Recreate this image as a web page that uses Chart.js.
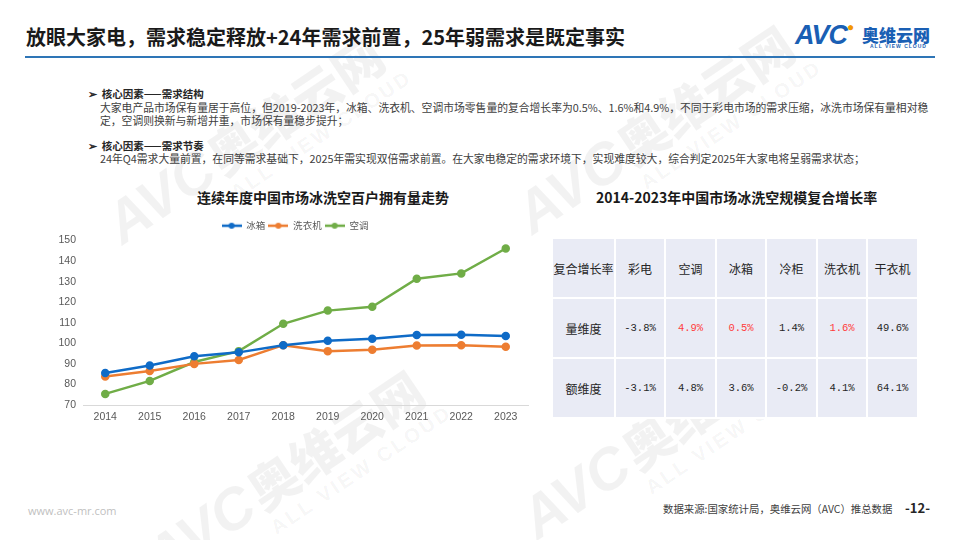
<!DOCTYPE html>
<html>
<head>
<meta charset="utf-8">
<script src="https://cdn.jsdelivr.net/npm/chart.js"></script>
<style>
  html, body { margin: 0; padding: 0; background: #fff; }
  body { width: 960px; height: 540px; position: relative; overflow: hidden;
         font-family: "Noto Sans CJK SC", "Noto Sans", sans-serif; color: #262626; }
  .abs { position: absolute; white-space: nowrap; }
  .wm { position: absolute; color: rgba(0,0,0,0.05); font-weight: 900; transform: rotate(-34deg);
        transform-origin: left top; white-space: nowrap; line-height: 1; }
  .wm .big { font-size: 58px; font-style: italic; font-family: "Liberation Sans", sans-serif; }
  .wm .cn { font-size: 50px; }
  .wm .en { display: block; font-size: 20px; letter-spacing: 3px; margin-left: 120px; font-family: "Liberation Sans", sans-serif; }
  #title { left: 26px; top: 22px; font-size: 20px; font-weight: 700; color: #1a1a1a; }
  #rule { left: 25px; top: 56px; width: 910px; height: 2px; background: #2e75b6; }
  .txt { font-size: 10.8px; color: #404040; }
  .head { font-size: 10.5px; font-weight: 700; color: #262626; }
  #chartTitle { left: 197px; top: 187px; font-size: 14px; font-weight: 700; color: #1a1a1a; }
  #tableTitle { left: 596px; top: 187px; font-size: 14px; font-weight: 700; color: #1a1a1a; }
  #wrap { position: absolute; left: 40px; top: 212px; width: 500px; height: 225px; }
  table { position: absolute; left: 551px; top: 237px; width: 368px; border-collapse: collapse; table-layout: fixed; }
  td { background: #e9ebf5; border: 2px solid #fff; height: 58px; text-align: center; padding: 0;
       font-size: 12px; color: #262626; }
  td.num { font-family: "Liberation Mono", "DejaVu Sans Mono", monospace; font-size: 10.5px; }
  td.red { color: #ff3b3b; }
</style>
</head>
<body>

<div class="wm" style="left:95px; top:205px;"><span class="big">AVC</span> <span class="cn">奥维云网</span><span class="en">ALL VIEW CLOUD</span></div>
<div class="wm" style="left:505px; top:195px;"><span class="big">AVC</span> <span class="cn">奥维云网</span><span class="en">ALL VIEW CLOUD</span></div>
<div class="wm" style="left:135px; top:540px;"><span class="big">AVC</span> <span class="cn">奥维云网</span><span class="en">ALL VIEW CLOUD</span></div>
<div class="wm" style="left:510px; top:500px;"><span class="big">AVC</span> <span class="cn">奥维云网</span><span class="en">ALL VIEW CLOUD</span></div>

<div id="title" class="abs">放眼大家电，需求稳定释放+24年需求前置，25年弱需求是既定事实</div>
<div id="rule" class="abs"></div>

<div class="abs" style="left:795px; top:20px; font-family:'Liberation Sans',sans-serif; font-weight:900; font-style:italic; font-size:27px; color:#1a5fb4; letter-spacing:-1px;">AVC<span style="color:#f39800; font-size:12px; vertical-align:top;">●</span></div>
<div class="abs" style="left:862px; top:22px; font-size:17px; font-weight:900; color:#1a5fb4;">奥维云网</div>
<div class="abs" style="left:870px; top:43px; font-size:5px; font-weight:700; color:#1a5fb4; letter-spacing:1px; font-family:'Liberation Sans',sans-serif;">ALL VIEW CLOUD</div>

<div class="abs head" style="left:88px; top:86px;">➢&nbsp;&nbsp;核心因素——需求结构</div>
<div class="abs txt" style="left:100px; top:99px;">大家电产品市场保有量居于高位，但2019-2023年，冰箱、洗衣机、空调市场零售量的复合增长率为0.5%、1.6%和4.9%，不同于彩电市场的需求压缩，冰洗市场保有量相对稳</div>
<div class="abs txt" style="left:100px; top:112px;">定，空调则换新与新增并重，市场保有量稳步提升；</div>
<div class="abs head" style="left:88px; top:138px;">➢&nbsp;&nbsp;核心因素——需求节奏</div>
<div class="abs txt" style="left:100px; top:150px;">24年Q4需求大量前置，在同等需求基础下，2025年需实现双倍需求前置。在大家电稳定的需求环境下，实现难度较大，综合判定2025年大家电将呈弱需求状态；</div>

<div id="chartTitle" class="abs">连续年度中国市场冰洗空百户拥有量走势</div>
<div id="wrap"><canvas id="c" width="500" height="225"></canvas></div>

<div id="tableTitle" class="abs">2014-2023年中国市场冰洗空规模复合增长率</div>
<table id="tbl"></table>

<div class="abs" style="left:28px; top:503px; font-size:11px; color:#bfbfbf; font-family:'Open Sans',sans-serif;">www.avc-mr.com</div>
<div class="abs" style="left:663px; top:501px; font-size:10.4px; color:#404040;">数据来源:国家统计局，奥维云网（AVC）推总数据</div>
<div class="abs" style="left:905px; top:498px; font-size:13px; font-weight:700; color:#262626;">-12-</div>

<script>
// line chart data (per 100 households)
const years = ['2014', '2015', '2016', '2017', '2018', '2019', '2020', '2021', '2022', '2023'];
const fridge = [85.6, 89.2, 93.7, 95.6, 99.1, 101.2, 102.2, 104.1, 104.2, 103.6];
const washer = [83.9, 86.5, 90.0, 91.9, 99.1, 96.2, 96.9, 98.9, 99.1, 98.3];
const aircon = [75.4, 81.7, 90.9, 96.2, 109.5, 115.9, 117.8, 131.4, 134.0, 146.1];
const seriesNames = ['冰箱', '洗衣机', '空调'];
const seriesColors = ['#0f6bc7', '#ed7d31', '#70ad47'];

// CAGR table
const tableHeader = '复合增长率';
const tableCols = ['彩电', '空调', '冰箱', '冷柜', '洗衣机', '干衣机'];
const rowNames = ['量维度', '额维度'];
const volumeCagr = ['-3.8%', '4.9%', '0.5%', '1.4%', '1.6%', '49.6%'];
const valueCagr = ['-3.1%', '4.8%', '3.6%', '-0.2%', '4.1%', '64.1%'];
const redCells = [1, 2, 4];

const colWidths = [61, 48, 49, 48, 49, 48, 49];

function buildTable() {
  const tbl = document.getElementById('tbl');
  const addRow = (first, cells, red) => {
    const tr = document.createElement('tr');
    const th = document.createElement('td');
    th.textContent = first;
    tr.appendChild(th);
    cells.forEach((v, i) => {
      const td = document.createElement('td');
      td.textContent = v;
      if (red !== null) td.className = 'num' + (red.includes(i) ? ' red' : '');
      tr.appendChild(td);
    });
    tbl.appendChild(tr);
  };
  addRow(tableHeader, tableCols, null);
  addRow(rowNames[0], volumeCagr, redCells);
  addRow(rowNames[1], valueCagr, []);
  const first = tbl.rows[0].cells;
  for (let i = 0; i < first.length; i++) first[i].style.width = colWidths[i] + 'px';
}
buildTable();

// little line + dot legend icons
function legendIcon(color) {
  const cv = document.createElement('canvas');
  cv.width = 20;
  cv.height = 8;
  const g = cv.getContext('2d');
  g.strokeStyle = color;
  g.lineWidth = 2.5;
  g.beginPath();
  g.moveTo(0, 4);
  g.lineTo(20, 4);
  g.stroke();
  g.fillStyle = color;
  g.beginPath();
  g.arc(10, 4, 3, 0, Math.PI * 2);
  g.fill();
  return cv;
}

// the slide's legend sits a bit right of the canvas centre
const legendNudge = {
  id: 'legendNudge',
  afterLayout(chart) {
    chart.legend.left += 11;
    chart.legend.right += 11;
  }
};

const allSeries = [fridge, washer, aircon];

new Chart(document.getElementById('c'), {
  type: 'line',
  data: {
    labels: years,
    datasets: allSeries.map((d, i) => ({
      label: seriesNames[i],
      data: d,
      borderColor: seriesColors[i],
      backgroundColor: seriesColors[i],
      borderWidth: 2.5,
      pointRadius: 3,
      pointHoverRadius: 3,
      tension: 0
    }))
  },
  options: {
    responsive: false,
    animation: false,
    layout: { padding: { left: 0, right: 12, top: 6, bottom: 8 } },
    plugins: {
      title: { display: false },
      tooltip: { enabled: false },
      legend: {
        position: 'top',
        labels: {
          usePointStyle: true,
          pointStyleWidth: 20,
          padding: 3,
          color: '#595959',
          font: { size: 9.5, family: '"Noto Sans CJK SC", sans-serif' },
          generateLabels: (chart) => {
            const items = Chart.defaults.plugins.legend.labels.generateLabels(chart);
            items.forEach((it, i) => { it.pointStyle = legendIcon(seriesColors[i]); });
            return items;
          }
        }
      }
    },
    scales: {
      x: {
        offset: true,
        grid: { display: false, drawTicks: false },
        border: { display: true, color: '#d9d9d9', width: 1 },
        ticks: { color: '#595959', font: { size: 10.5, family: '"Liberation Sans", sans-serif' }, padding: 6 },
        afterFit: (s) => { s.height = 24; }
      },
      y: {
        min: 70,
        max: 150,
        grid: { display: false, drawTicks: false },
        border: { display: false },
        ticks: { stepSize: 10, color: '#595959', font: { size: 10.5, family: '"Liberation Sans", sans-serif' }, padding: 7 },
        afterFit: (s) => { s.width = 43; }
      }
    }
  },
  plugins: [legendNudge]
});
</script>
</body>
</html>
